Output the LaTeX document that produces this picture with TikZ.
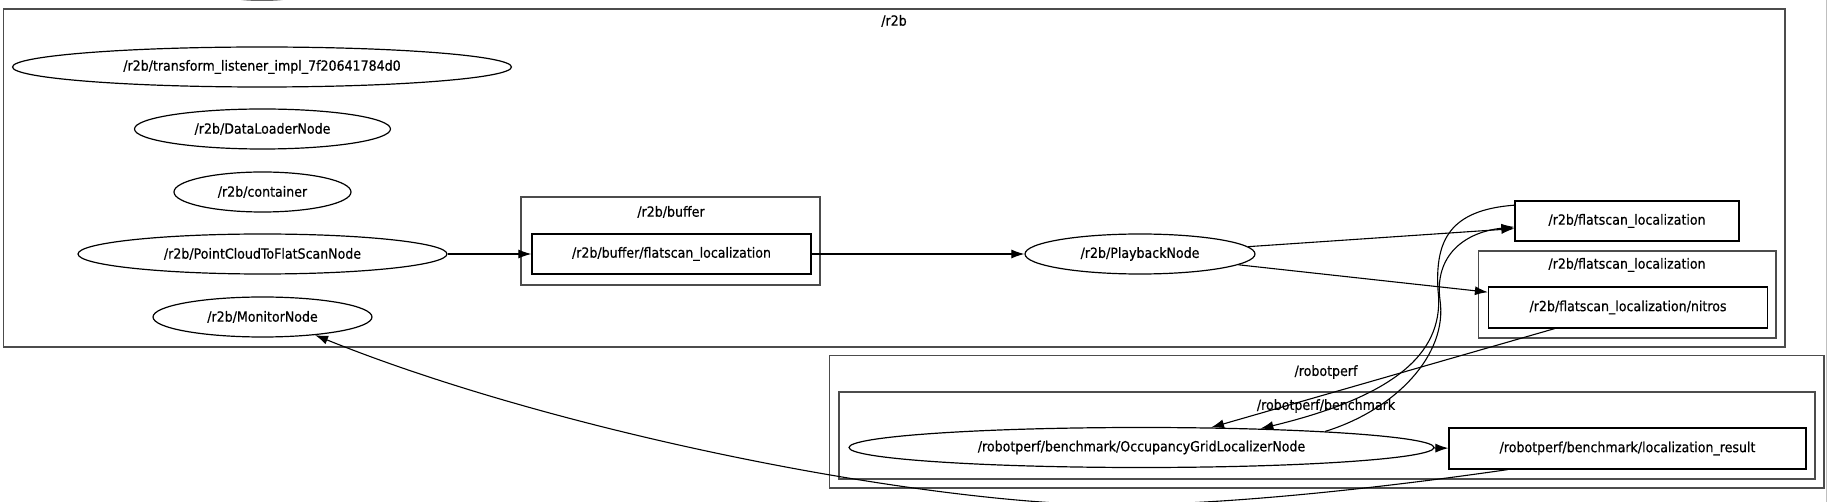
\documentclass[tikz,border=0pt]{standalone}
\usepackage{fontspec}
\setmainfont{DejaVu Sans}[FakeStretch=0.9,FakeBold=0.5]
\usepackage{xcolor}
\usetikzlibrary{shapes.geometric, arrows.meta}

\begin{document}
\begin{tikzpicture}[x=1pt,y=-1pt,line width=1.2pt,
  font=\fontsize{14}{16}\selectfont,
  nd/.style={draw,ellipse,inner sep=0pt,minimum height=40pt},
  tp/.style={draw,rectangle,inner sep=0pt,minimum height=40pt},
  grp/.style={draw=black!70,line width=1.1pt},
  edge/.style={line width=1.1pt,-{Latex[length=13pt,width=9pt]}}]
\useasboundingbox (0,0) rectangle (1828,502);
\clip (0,0) rectangle (1828,502);
\fill[white] (0,0) rectangle (1828,502);
\fill[black!60] (262,-2) ellipse (28 and 3);
\draw[black!25,line width=1pt] (1826,0) -- (1826,502);
\draw[grp] (3.5,9) rectangle (1785,347);
\draw (894,21) node (r2blbl) {/r2b};
\draw[grp] (521,197) rectangle (820,285);
\draw (671,212) node (buflbl) {/r2b/buffer};
\draw[grp] (1478.5,251) rectangle (1776,338);
\draw (1627,265) node (fllbl) {/r2b/flatscan\_localization};
\draw[grp] (829.6,355.7) rectangle (1824,488);
\draw (1326,372) node (rplbl) {/robotperf};
\draw[grp] (839,392) rectangle (1815,479);
\draw (1326,406) node (bmlbl) {/robotperf/benchmark};
\draw (262,67) node[nd,minimum width=499pt] (tfl) {/r2b/transform\_listener\_impl\_7f20641784d0};
\draw (262.5,129) node[nd,minimum width=256pt] (dln) {/r2b/DataLoaderNode};
\draw (262.5,192) node[nd,minimum width=177pt] (cont) {/r2b/container};
\draw (262.5,254) node[nd,minimum width=369pt] (pc) {/r2b/PointCloudToFlatScanNode};
\draw (262.5,317) node[nd,minimum width=219pt] (mon) {/r2b/MonitorNode};
\draw (671.5,254) node[tp,minimum width=279pt] (bufl) {/r2b/buffer/flatscan\_localization};
\draw (1140,254) node[nd,minimum width=230pt] (pb) {/r2b/PlaybackNode};
\draw (1627,221) node[tp,minimum width=224pt] (fl) {/r2b/flatscan\_localization};
\draw (1628,307.5) node[tp,minimum width=279pt,minimum height=41pt] (nit) {/r2b/flatscan\_localization/nitros};
\draw (1141.5,447.5) node[nd,minimum width=585pt] (occ) {/robotperf/benchmark/OccupancyGridLocalizerNode};
\draw (1627.5,448.5) node[tp,minimum width=357pt,minimum height=41pt] (res) {/robotperf/benchmark/localization\_result};
\draw[edge] (pc) -- (bufl);
\draw[edge] (bufl) -- (pb);
\draw[edge] (pb) -- (fl);
\draw[edge] (pb) -- (nit);
\draw[edge] (nit) -- (occ);
\draw[edge] (fl.172) .. controls (1450,210) and (1435,240) .. (1438,290) .. controls (1445,350) and (1400,395) .. (occ.9);
\draw[edge] (occ.5) .. controls (1395,410) and (1448,355) .. (1440,300) .. controls (1434,255) and (1465,232) .. (fl.183);
\draw[edge] (occ) -- (res);
\draw[edge] (res.190) .. controls (1380,488) and (1220,506) .. (1100,505) .. controls (900,500) and (550,430) .. (mon.-19);
\end{tikzpicture}
\end{document}
